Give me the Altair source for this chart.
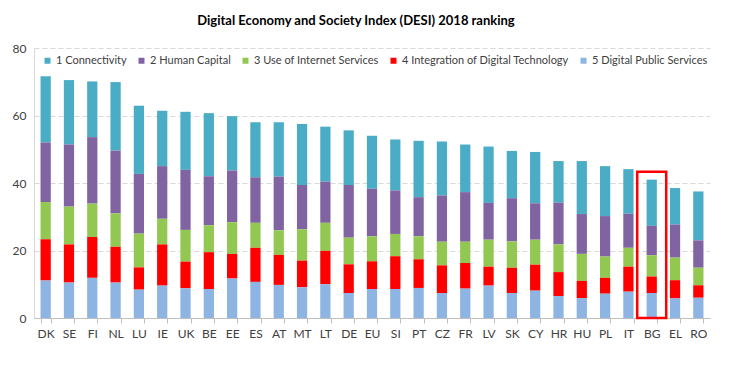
import altair as alt
import pandas as pd

countries = ["DK", "SE", "FI", "NL", "LU", "IE", "UK", "BE", "EE", "ES", "AT", "MT", "LT", "DE", "EU",
             "SI", "PT", "CZ", "FR", "LV", "SK", "CY", "HR", "HU", "PL", "IT", "BG", "EL", "RO"]

series_names = ["1 Connectivity", "2 Human Capital", "3 Use of Internet Services",
                "4 Integration of Digital Technology", "5 Digital Public Services"]

connectivity = [19.6, 19.1, 16.5, 20.3, 20.2, 16.4, 17.2, 18.7, 16.1, 16.3, 16.1, 18.1, 16.3, 16.2, 15.7,
                15.1, 16.7, 16.0, 14.1, 16.7, 14.0, 15.2, 12.3, 15.7, 14.8, 13.2, 13.7, 10.8, 14.5]
human_capital = [17.6, 18.4, 19.7, 18.6, 17.7, 15.6, 17.8, 14.5, 15.3, 13.5, 15.9, 13.1, 12.2, 15.6, 14.1,
                 12.9, 11.6, 13.7, 14.7, 10.9, 12.8, 10.8, 12.4, 11.8, 12.0, 10.1, 8.7, 9.8, 8.1]
internet_use = [11.1, 11.2, 9.9, 9.9, 10.0, 7.6, 9.4, 8.0, 9.4, 7.4, 7.3, 9.3, 8.3, 7.9, 7.4,
                6.6, 6.8, 7.0, 6.3, 8.0, 7.8, 7.4, 8.2, 8.0, 6.3, 5.6, 6.3, 6.7, 5.2]
integration = [12.2, 11.3, 12.1, 10.6, 6.6, 12.2, 7.9, 10.9, 7.3, 10.1, 8.9, 7.9, 9.9, 8.5, 8.2,
               9.7, 8.5, 8.2, 7.6, 5.6, 7.5, 7.7, 7.1, 5.1, 4.7, 7.4, 4.9, 5.4, 3.7]
public_services = [11.1, 10.5, 11.9, 10.5, 8.4, 9.6, 8.8, 8.6, 11.7, 10.7, 9.8, 9.1, 10.0, 7.4, 8.6,
                   8.6, 8.9, 7.4, 8.7, 9.6, 7.4, 8.1, 6.5, 5.9, 7.2, 7.8, 7.4, 5.8, 6.0]

y_ticks = [0, 10, 20, 30, 40, 50, 60, 70, 80]
highlight = ["BG"]
highlight_top = [43.3]

colors = ["#4BACC6", "#8064A2", "#92C851", "#FF0000", "#8DB4E2"]

all_series = [connectivity, human_capital, internet_use, integration, public_services]
rows = []
for s_idx, (name, vals) in enumerate(zip(series_names, all_series)):
    for c, v in zip(countries, vals):
        rows.append({"country": c, "series": name, "rank": s_idx + 1, "value": v})
df = pd.DataFrame(rows)

box_df = pd.DataFrame({"country": highlight, "top": highlight_top})

FONT = "Lato"

x_enc = alt.X("country:N", sort=countries,
              scale=alt.Scale(paddingInner=0.56, paddingOuter=0.28),
              axis=alt.Axis(title=None, labelAngle=0, labelFontSize=12, labelColor="#404040",
                            labelFont=FONT, labelPadding=5, tickBand="extent", tickSize=5,
                            tickColor="#BFBFBF", domainColor="#BFBFBF", grid=False))

bars = alt.Chart(df).mark_bar().encode(
    x=x_enc,
    y=alt.Y("value:Q", stack="zero",
            scale=alt.Scale(domain=[0, 80], nice=False),
            axis=alt.Axis(title=None, values=y_ticks, labelFontSize=12, labelColor="#404040",
                          labelFont=FONT, labelPadding=8, ticks=False, domainColor="#D9D9D9",
                          gridColor="#D9D9D9", gridDash=[5, 3], gridWidth=1)),
    color=alt.Color("series:N", sort=series_names,
                    scale=alt.Scale(domain=series_names, range=colors),
                    legend=alt.Legend(title=None, orient="none", direction="horizontal",
                                      legendX=8, legendY=7, labelFont=FONT, labelFontSize=11,
                                      labelColor="#404040", symbolType="square", symbolSize=36,
                                      symbolStrokeWidth=0, columnPadding=9, labelOffset=3,
                                      labelLimit=400)),
    order=alt.Order("rank:Q", sort="descending"),
)

box = alt.Chart(box_df).mark_bar(width=29, fillOpacity=0, stroke="#FF0000", strokeWidth=2.5).encode(
    x=alt.X("country:N", sort=countries),
    y=alt.Y("top:Q"),
    y2=alt.value(300),
)

chart = alt.layer(bars, box).properties(
    width=676,
    height=270,
    autosize="none",
    padding={"left": 26, "top": 40, "right": 32, "bottom": 46},
    title=alt.Title("Digital Economy and Society Index (DESI) 2018 ranking",
                    font=FONT, fontSize=13, fontWeight="bold", color="#000000",
                    anchor="middle", dx=-16, offset=14),
).configure_view(stroke=None)

chart.save("out.html", embed_options={"renderer": "svg", "actions": False})
